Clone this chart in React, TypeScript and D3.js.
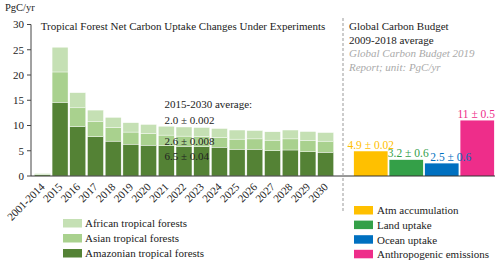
import React from 'react';
import * as d3 from 'd3';

const periods = ['2001-2014','2015','2016','2017','2018','2019','2020','2021','2022','2023','2024','2025','2026','2027','2028','2029','2030'];
const amazon = [0.25, 14.6, 9.8, 7.8, 6.9, 6.3, 6.1, 6.0, 5.9, 5.8, 5.7, 5.3, 5.3, 5.0, 5.15, 4.8, 4.7];
const asian = [0.15, 6.0, 3.7, 2.95, 2.7, 2.4, 2.35, 2.1, 2.0, 2.0, 1.9, 2.0, 2.05, 2.1, 2.2, 2.2, 2.2];
const african = [0.15, 4.9, 3.0, 2.3, 2.0, 1.85, 1.75, 1.75, 1.8, 1.8, 1.8, 1.8, 1.65, 1.65, 1.75, 1.8, 1.7];
const regionNames = ['Amazonian tropical forests', 'Asian tropical forests', 'African tropical forests'];

const budgetNames = ['Atm accumulation', 'Land uptake', 'Ocean uptake', 'Anthropogenic emissions'];
const budgetValues = [4.9, 3.2, 2.5, 11];
const budgetLabels = ['4.9 ± 0.02', '3.2 ± 0.6', '2.5 ± 0.6', '11 ± 0.5'];

const yTicks = [0, 5, 10, 15, 20, 25, 30];
const averageLines = ['2015-2030 average:', '2.0 ± 0.002', '2.6 ± 0.008', '6.5 ± 0.04'];
const titleLeft = 'Tropical Forest Net Carbon Uptake Changes Under Experiments';
const titleRight = ['Global Carbon Budget', '2009-2018 average'];
const noteRight = ['Global Carbon Budget 2019', 'Report; unit: PgC/yr'];
const unitLabel = 'PgC/yr';

export default function App() {
  const W = 500, H = 264;
  const font = '"Liberation Serif", "Times New Roman", serif';
  const fs = 11;
  const y = d3.scaleLinear().domain([0, 30]).range([176, 24.5]);
  const x = d3.scaleBand().domain(periods).range([33.5, 334.5]).paddingInner(0.1).paddingOuter(0.05);
  const xb = d3.scaleBand().domain(budgetNames).range([353, 495]).paddingInner(0.05).paddingOuter(0.025);

  const greens = ['#548235', '#A9D18E', '#C5E0B4'];
  const budgetColors = ['#FFC000', '#34A048', '#0070C0', '#EE2D8A'];
  const labelDx = [0, 2, 9, -1];

  const rows = periods.map((p, i) => ({ p, a: amazon[i], s: asian[i], f: african[i] }));
  const stack = d3.stack<any>().keys(['a', 's', 'f'])(rows);

  const avgBaselines = [108, 124, 145, 160];
  const leftLegendOrder = [2, 1, 0];

  return (
    <svg width={W} height={H} style={{ position: 'absolute', left: 0, top: 0, background: '#fff' }} fontFamily={font} fontSize={fs}>
      <rect x={0} y={0} width={W} height={H} fill="#fff" />
      <text x={5} y={11} fill="#222" fontSize={10.5}>{unitLabel}</text>
      {/* y axis */}
      <line x1={31} x2={31} y1={y(30)} y2={y(0)} stroke="#444" strokeWidth={1} />
      {yTicks.map(t => (
        <g key={t}>
          <line x1={27} x2={31} y1={y(t)} y2={y(t)} stroke="#444" />
          <text x={24} y={y(t)} dy="0.35em" textAnchor="end" fill="#222">{t}</text>
        </g>
      ))}
      {/* stacked bars */}
      {stack.map((layer, li) => (
        <g key={li} fill={greens[li]}>
          {layer.map((d, i) => (
            <rect key={i} x={x(periods[i])} width={x.bandwidth()} y={y(d[1])} height={y(d[0]) - y(d[1])} stroke="#fff" strokeWidth={0.4} />
          ))}
        </g>
      ))}
      {/* budget bars */}
      {budgetNames.map((n, i) => (
        <rect key={n} x={xb(n)} width={xb.bandwidth()} y={y(budgetValues[i])} height={y(0) - y(budgetValues[i])} fill={budgetColors[i]} />
      ))}
      {budgetNames.map((n, i) => (
        <text key={n} x={(xb(n) as number) + xb.bandwidth() / 2 + labelDx[i]} y={y(budgetValues[i]) - 2.5} textAnchor="middle" fill={budgetColors[i]} fontSize={11.5}>{budgetLabels[i]}</text>
      ))}
      {/* x axis */}
      <line x1={31} x2={495} y1={y(0)} y2={y(0)} stroke="#333" strokeWidth={1} />
      {periods.map(p => {
        const cx = (x(p) as number) + x.bandwidth() / 2 + 3;
        return (
          <text key={p} transform={`translate(${cx},${187.5}) rotate(-45)`} textAnchor="end" fill="#222">{p}</text>
        );
      })}
      {/* dashed divider */}
      <line x1={343} x2={343} y1={18} y2={211} stroke="#999" strokeDasharray="3,2" strokeWidth={1} />
      {/* titles */}
      <text x={40.7} y={29.5} fill="#222">{titleLeft}</text>
      {titleRight.map((t, i) => (
        <text key={t} x={349} y={30 + i * 13.5} fill="#222">{t}</text>
      ))}
      {noteRight.map((t, i) => (
        <text key={t} x={349} y={57 + i * 13.5} fill="#aaa" fontStyle="italic">{t}</text>
      ))}
      {/* average annotation */}
      {averageLines.map((t, i) => (
        <text key={t} x={164.5} y={avgBaselines[i]} fill="#222">{t}</text>
      ))}
      {/* left legend */}
      {leftLegendOrder.map((li, r) => (
        <g key={li} transform={`translate(63,${219 + r * 15})`}>
          <rect width={19} height={8.5} fill={greens[li]} />
          <text x={22} y={4.5} dy="0.35em" fill="#222">{regionNames[li]}</text>
        </g>
      ))}
      {/* right legend */}
      {budgetNames.map((n, r) => (
        <g key={n} transform={`translate(354,${206 + r * 14.6})`}>
          <rect width={19} height={8.5} fill={budgetColors[r]} />
          <text x={23} y={4.5} dy="0.35em" fill="#222">{n}</text>
        </g>
      ))}
    </svg>
  );
}
